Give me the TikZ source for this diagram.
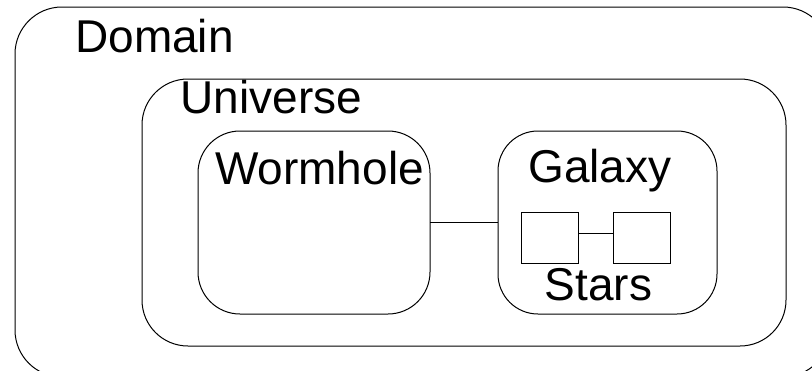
\documentclass[tikz,border=0pt]{standalone}
\usepackage{fontspec}
\setmainfont{Liberation Sans}
\begin{document}
\begin{tikzpicture}[x=1pt,y=-1pt,
  box/.style={draw=black,line width=1pt,inner sep=0pt,outer sep=0pt,fill=none},
  lbl/.style={inner sep=0pt,outer sep=0pt,anchor=base,font=\fontsize{46}{50}\selectfont},
  conn/.style={draw=black,line width=1pt}]
\useasboundingbox (0,0) rectangle (812,370);
\clip (0,0) rectangle (812,370);
\node[box,rounded corners=47pt,minimum width=815pt,minimum height=370pt] (domain) at (422.5,192) {};
\node[box,rounded corners=46pt,minimum width=644pt,minimum height=267pt] (universe) at (464,212.5) {};
\node[box,rounded corners=42pt,minimum width=232pt,minimum height=183pt] (wormhole) at (314,222.5) {};
\node[box,rounded corners=40pt,minimum width=219pt,minimum height=183pt] (galaxy) at (607.5,222.5) {};
\node[box,minimum width=57pt,minimum height=51pt] (star1) at (549.5,237.5) {};
\node[box,minimum width=57pt,minimum height=51pt] (star2) at (641.5,237.5) {};
\draw[conn] (wormhole.east) -- (galaxy.west);
\draw[conn] ([yshift=4.5pt]star1.east) -- ([yshift=4.5pt]star2.west);
\node[lbl] (tdomain) at (154.5,52) {Domain};
\node[lbl] (tuniverse) at (271.5,113) {Universe};
\node[lbl] (twormhole) at (319.5,184) {Wormhole};
\node[lbl] (tgalaxy) at (600,182) {Galaxy};
\node[lbl] (tstars) at (598.5,300) {Stars};
\end{tikzpicture}
\end{document}
